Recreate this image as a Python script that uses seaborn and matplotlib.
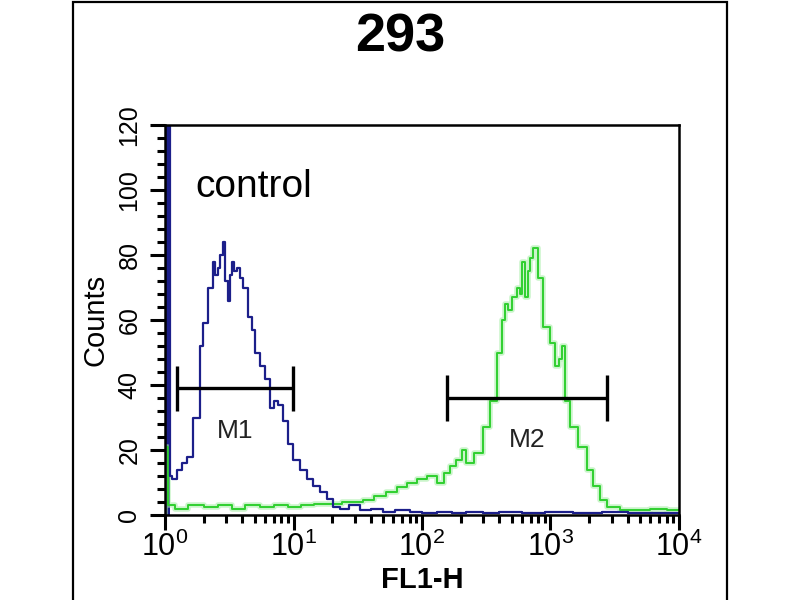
import numpy as np
import pandas as pd
import seaborn as sns
import matplotlib.pyplot as plt
from matplotlib.patches import Rectangle
from matplotlib.ticker import MultipleLocator, LogLocator, NullFormatter

# control histogram (blue), FL1-H channel value and counts
blue_fl1 = [1.0, 1.0, 1.04, 1.09, 1.13, 1.24, 1.36, 1.48, 1.65, 1.87, 1.98,
            2.16, 2.36, 2.47, 2.58, 2.70, 2.83, 2.95, 3.09, 3.20, 3.32,
            3.47, 3.63, 3.85, 4.05, 4.43, 4.75, 5.01, 5.49, 6.0, 6.56,
            7.0, 7.57, 8.28, 9.06, 9.91, 11.2, 12.7, 14.2, 16.1, 18.2,
            20.3, 23, 27, 33, 40, 50, 62, 80, 100, 130,
            170, 220, 300, 400, 600, 900, 1500, 2500, 4000, 6500, 10000]
blue_counts = [0, 130, 130, 12, 11, 14, 16, 18, 30, 52, 59,
               70, 78, 74, 76, 80, 84, 72, 66, 74, 78,
               75, 76, 73, 70, 61, 57, 50, 46, 42, 33,
               35, 34, 29, 22, 17, 14, 11, 9, 7, 5,
               2.5, 2, 3, 1.5, 2, 1, 1.5, 1, 0.5, 1,
               0.5, 0.8, 0.5, 1, 0.5, 0.8, 0.5, 0.8, 0.5, 0.5, 0.5]

# sample histogram (green)
green_fl1 = [1.0, 1.0, 1.05, 1.2, 1.5, 2.0, 2.6, 3.3, 4.2, 5.5, 7.0,
             9.0, 11.5, 14.5, 19.2, 24, 29, 34.7, 42, 52, 63.9,
             76, 91.4, 110, 131, 148, 165, 185, 205, 220, 236,
             252, 268, 298, 338, 383, 420, 443, 470, 502, 549,
             575, 600, 634, 665, 692, 731, 800, 875, 991, 1084,
             1160, 1228, 1297, 1419, 1637, 1923, 2143, 2428, 2752, 3470,
             4500, 6000, 8000, 10000]
green_counts = [0, 21, 3, 2, 3, 2.5, 3, 2, 3, 2.5, 3,
                2.5, 3, 3.5, 3.5, 4, 4, 4.5, 6, 7, 8.6,
                10, 11, 12, 10, 13, 15, 17, 20, 16, 16,
                19, 19, 27, 35, 50, 60, 65, 63, 67, 70,
                68, 78, 67, 75, 79, 82, 73, 58, 53, 46,
                48, 52, 35, 27, 21, 14, 9, 4.6, 2.5, 1.5,
                1.5, 2, 1.5, 1.5]

# marker gates
gate_names = ['M1', 'M2']
gate_left = [1.24, 157]
gate_right = [9.9, 2750]
gate_level = [39, 36]

x_ticks = [1, 10, 100, 1000, 10000]
x_ticklabels = ['$10^0$', '$10^1$', '$10^2$', '$10^3$', '$10^4$']
y_ticks = [0, 20, 40, 60, 80, 100, 120]

sns.set_style('ticks')
plt.rcParams['font.family'] = ['Liberation Sans', 'DejaVu Sans']
plt.rcParams['mathtext.fontset'] = 'custom'
plt.rcParams['mathtext.rm'] = 'Liberation Sans'
plt.rcParams['mathtext.it'] = 'Liberation Sans'
for key in ['text.color', 'axes.labelcolor', 'xtick.color', 'ytick.color']:
    plt.rcParams[key] = 'black'

fig = plt.figure(figsize=(8, 6), dpi=100)
ax = fig.add_axes([165 / 800, 85 / 600, 514 / 800, 390 / 600])

blue_df = pd.DataFrame({'fl1': blue_fl1, 'counts': blue_counts})
green_df = pd.DataFrame({'fl1': green_fl1, 'counts': green_counts})

# soft glow under the green trace
sns.lineplot(data=green_df, x='fl1', y='counts', ax=ax, estimator=None, sort=False,
             drawstyle='steps-post', color='#a8eea8', linewidth=4, alpha=0.6)
sns.lineplot(data=green_df, x='fl1', y='counts', ax=ax, estimator=None, sort=False,
             drawstyle='steps-post', color='#2fcf2f', linewidth=1.4)
sns.lineplot(data=blue_df, x='fl1', y='counts', ax=ax, estimator=None, sort=False,
             drawstyle='steps-post', color='#1c1f8a', linewidth=1.6)
# the pile-up in the first channels is drawn solid
first = blue_df.iloc[1:4]
ax.fill_between(first['fl1'], first['counts'], step='post', color='#1c1f8a', linewidth=0)

for name, lo, hi, lvl in zip(gate_names, gate_left, gate_right, gate_level):
    ax.hlines(lvl, lo, hi, color='black', linewidth=2.4)
    ax.vlines([lo, hi], lvl - 7, lvl + 7, color='black', linewidth=2.4)
    mid = np.sqrt(lo * hi)
    ax.text(mid, lvl - 13, name, ha='center', va='center', fontsize=19, color='#222222')

ax.text(1.71, 101, 'control', ha='left', va='center', fontsize=28, color='black')

ax.set_xscale('log')
ax.set_xlim(1, 10000)
ax.set_ylim(0, 120)
ax.set_xticks(x_ticks)
ax.set_xticklabels(x_ticklabels)
ax.xaxis.set_minor_locator(LogLocator(base=10, subs=np.arange(2, 10)))
ax.xaxis.set_minor_formatter(NullFormatter())
ax.set_yticks(y_ticks)
ax.yaxis.set_minor_locator(MultipleLocator(4))
ax.tick_params(axis='y', which='major', length=11, width=2.2, labelsize=18,
               labelrotation=90, pad=6)
ax.tick_params(axis='y', which='minor', length=6, width=2.2)
ax.tick_params(axis='x', which='major', length=11, width=2.2, labelsize=22, pad=1)
ax.tick_params(axis='x', which='minor', length=6, width=2.2)
for lab in ax.get_yticklabels():
    lab.set_verticalalignment('center')

for side in ['left', 'right', 'top', 'bottom']:
    ax.spines[side].set_visible(True)
    ax.spines[side].set_linewidth(1.8)
    ax.spines[side].set_color('black')

ax.set_xlabel('FL1-H', fontsize=21, fontweight='bold', labelpad=2)
ax.set_ylabel('Counts', fontsize=21, labelpad=6)

fig.text(0.5, 1 - 37 / 600, '293', ha='center', va='center', fontsize=39,
         fontweight='bold')

# outer frame
fig.patches.append(Rectangle((73 / 800, -0.02), 654 / 800, 1.017, transform=fig.transFigure,
                             fill=False, edgecolor='black', linewidth=1.6))

fig.savefig('out.png', dpi=100)
